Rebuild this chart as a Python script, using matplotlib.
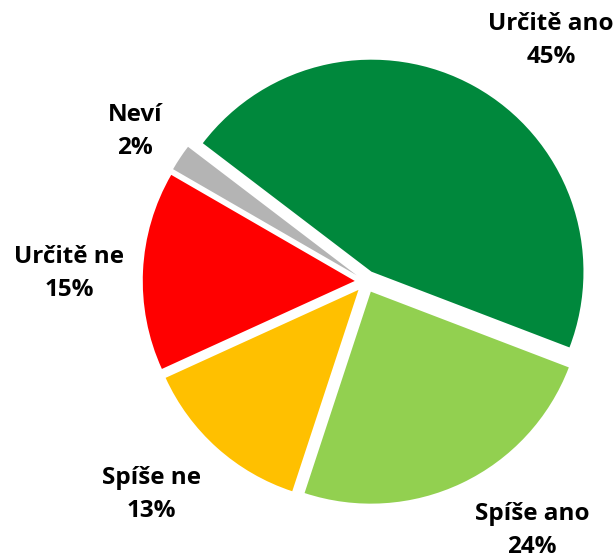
import matplotlib.pyplot as plt

# survey answers (percent) and their colours, in the order drawn clockwise
labels = ["Určitě ano", "Spíše ano", "Spíše ne", "Určitě ne", "Neví"]
values = [45, 24, 13, 15, 2]
colors = ["#00883C", "#92D050", "#FFC000", "#FF0000", "#B4B4B4"]

# label positions in pie-radius units, placed by hand like in Excel
label_pos = [(0.873, 1.139), (0.783, -1.175), (-1.014, -1.007),
             (-1.399, 0.037), (-1.090, 0.708)]

plt.rcParams['font.family'] = ['Open Sans', 'DejaVu Sans']

fig = plt.figure(figsize=(6.15, 5.59), dpi=100)
ax = fig.add_axes([0, 0, 1, 1])

ax.pie(values, colors=colors, startangle=142.7, counterclock=False,
       explode=[0.053] * len(values), radius=1.0,
       wedgeprops=dict(linewidth=0))

for lab, val, (x, y) in zip(labels, values, label_pos):
    ax.text(x, y, f"{lab}\n{val}%", ha='center', va='center',
            fontsize=17.5, fontweight='bold', color='black', linespacing=1.5)

# pie centre sits at pixel (366, 281.5), radius 212 px
ax.set_xlim(-366 / 212, (615 - 366) / 212)
ax.set_ylim(-(559 - 281.5) / 212, 281.5 / 212)
ax.set_aspect('equal')
ax.axis('off')

fig.savefig("out.png", dpi=100)
